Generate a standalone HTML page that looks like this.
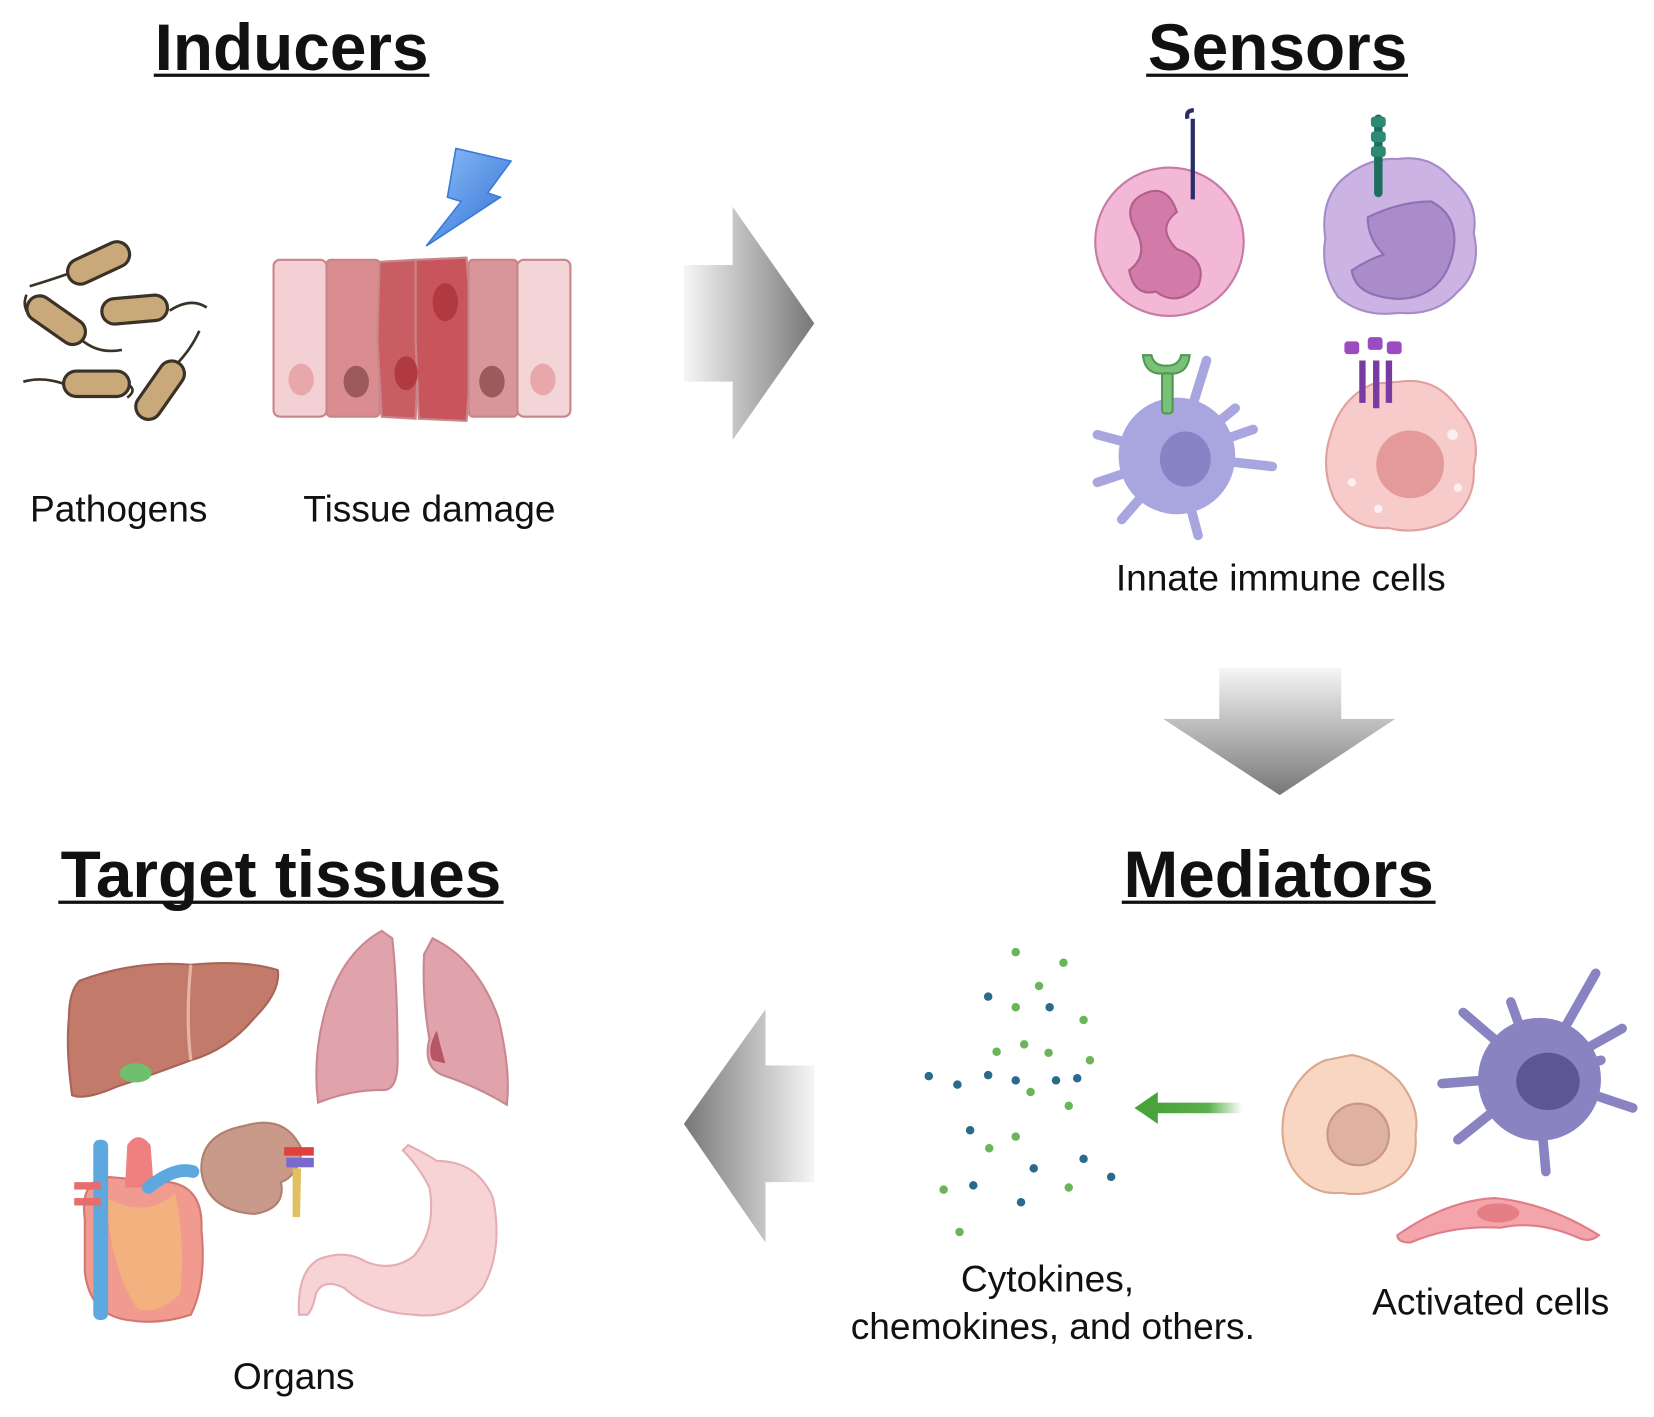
<!DOCTYPE html>
<html><head><meta charset="utf-8"><style>
html,body{margin:0;padding:0;background:#fff;}
svg{display:block;}
text{font-family:"Liberation Sans",Arial,sans-serif;}
</style></head><body>
<svg width="1654" height="1417" viewBox="0 0 1560 1336.5" preserveAspectRatio="none" xmlns="http://www.w3.org/2000/svg">
<defs>
<linearGradient id="gr" gradientUnits="userSpaceOnUse" x1="645" y1="0" x2="768" y2="0"><stop offset="0" stop-color="#f6f6f6"/><stop offset="1" stop-color="#777"/></linearGradient>
<linearGradient id="gl" gradientUnits="userSpaceOnUse" x1="768" y1="0" x2="645" y2="0"><stop offset="0" stop-color="#f6f6f6"/><stop offset="1" stop-color="#777"/></linearGradient>
<linearGradient id="gd" gradientUnits="userSpaceOnUse" x1="0" y1="630" x2="0" y2="750"><stop offset="0" stop-color="#f6f6f6"/><stop offset="1" stop-color="#777"/></linearGradient>
<linearGradient id="gg" x1="0" y1="0" x2="1" y2="0"><stop offset="0" stop-color="#4aa23a"/><stop offset="0.6" stop-color="#5bb04a"/><stop offset="1" stop-color="#5bb04a" stop-opacity="0"/></linearGradient>
<linearGradient id="bolt" x1="0" y1="0" x2="1" y2="1"><stop offset="0" stop-color="#8fc0f5"/><stop offset="1" stop-color="#2f6fd8"/></linearGradient>
</defs>

<!-- Titles -->
<g font-weight="bold" font-size="62" text-anchor="middle" fill="#111">
<text x="275" y="66">Inducers</text>
<text x="1205" y="66">Sensors</text>
<text x="265" y="846">Target tissues</text>
<text x="1206" y="846">Mediators</text>
</g>
<g stroke="#111" stroke-width="3">
<line x1="145" y1="71" x2="405" y2="71"/>
<line x1="1081" y1="71" x2="1328" y2="71"/>
<line x1="55" y1="851" x2="475" y2="851"/>
<line x1="1058" y1="851" x2="1354" y2="851"/>
</g>

<!-- Labels -->
<g font-size="35" text-anchor="middle" fill="#111">
<text x="112" y="492">Pathogens</text>
<text x="405" y="492">Tissue damage</text>
<text x="1208" y="557">Innate immune cells</text>
<text x="988" y="1218">Cytokines,</text>
<text x="993" y="1263">chemokines, and others.</text>
<text x="1406" y="1240">Activated cells</text>
<text x="277" y="1310">Organs</text>
</g>

<!-- Big arrows -->
<path d="M645,250 L691,250 L691,195 L768,305 L691,415 L691,360 L645,360 Z" fill="url(#gr)"/>
<path d="M1150,630 L1265,630 L1265,678 L1316,678 L1207,750 L1097,678 L1150,678 Z" fill="url(#gd)"/>
<path d="M768,1005 L722,1005 L722,952 L645,1060 L722,1172 L722,1115 L768,1115 Z" fill="url(#gl)"/>

<!-- Bacteria -->
<g stroke="#3a3226" stroke-width="2.5" fill="none">
<path d="M65,258 Q45,265 28,270"/><path d="M30,300 Q20,290 25,278"/><path d="M160,293 Q180,280 195,290"/>
<path d="M72,316 Q90,335 115,330"/><path d="M60,362 Q40,355 22,360"/><path d="M120,362 Q130,368 120,375"/>
<path d="M165,345 Q180,330 188,312"/>
</g>
<g fill="#c9a97a" stroke="#3a3226" stroke-width="3">
<rect x="62" y="236" width="62" height="24" rx="12" transform="rotate(-25 93 248)"/>
<rect x="22" y="290" width="62" height="24" rx="12" transform="rotate(35 53 302)"/>
<rect x="96" y="280" width="62" height="24" rx="12" transform="rotate(-5 127 292)"/>
<rect x="60" y="350" width="62" height="24" rx="12"/>
<rect x="120" y="356" width="62" height="24" rx="12" transform="rotate(-55 151 368)"/>
</g>

<!-- Tissue -->
<g stroke="#c9858a" stroke-width="2">
<rect x="258" y="245" width="50" height="148" rx="6" fill="#f2d0d3"/>
<rect x="308" y="245" width="50" height="148" rx="4" fill="#d98d91"/>
<path d="M358,247 L392,245 L395,320 L392,395 L360,393 L356,320 Z" fill="#c85e63"/>
<path d="M392,245 L440,243 L446,320 L440,397 L395,395 L392,320 Z" fill="#c9555c"/>
<rect x="442" y="245" width="46" height="148" rx="4" fill="#d9969a"/>
<rect x="488" y="245" width="50" height="148" rx="6" fill="#f3d5d7"/>
</g>
<ellipse cx="284" cy="358" rx="12" ry="15" fill="#e8a8ab"/>
<ellipse cx="336" cy="360" rx="12" ry="15" fill="#9d5a5c"/>
<ellipse cx="383" cy="352" rx="11" ry="16" fill="#b03a40"/>
<ellipse cx="420" cy="285" rx="12" ry="18" fill="#b03a40"/>
<ellipse cx="464" cy="360" rx="12" ry="15" fill="#9d5a5c"/>
<ellipse cx="512" cy="358" rx="12" ry="15" fill="#e8a8ab"/>
<path d="M430,140 L482,152 L460,182 L472,186 L402,232 L435,190 L422,186 Z" fill="url(#bolt)" stroke="#3a7ad8" stroke-width="1.5"/>

<!-- Sensors -->
<circle cx="1103" cy="228" r="70" fill="#f2b8d6" stroke="#c77aa6" stroke-width="2"/>
<path d="M1075,185 Q1100,170 1110,200 Q1090,215 1110,235 Q1140,245 1130,270 Q1110,290 1090,275 Q1070,280 1065,255 Q1085,240 1070,215 Q1060,195 1075,185 Z" fill="#d27aa8" stroke="#b35f8e" stroke-width="2"/>
<line x1="1125" y1="112" x2="1125" y2="188" stroke="#2a2d6a" stroke-width="4"/>
<path d="M1120,112 Q1118,104 1126,104" stroke="#2a2d6a" stroke-width="4" fill="none"/>
<path d="M1318,150 Q1350,145 1370,170 Q1395,190 1390,220 Q1398,255 1375,275 Q1355,298 1320,295 Q1285,300 1262,280 Q1245,255 1250,225 Q1245,190 1265,170 Q1290,148 1318,150 Z" fill="#cbb3e4" stroke="#a58bc8" stroke-width="2"/>
<path d="M1290,205 Q1320,190 1350,190 Q1378,205 1370,240 Q1360,280 1320,282 Q1278,280 1275,255 Q1290,245 1305,240 Q1290,225 1290,205 Z" fill="#a98cc9" stroke="#8e70b3" stroke-width="2"/>
<g stroke="#1e6e5e" stroke-width="8" stroke-linecap="round"><line x1="1300" y1="112" x2="1300" y2="182"/></g>
<g fill="#2d8a75"><rect x="1293" y="110" width="14" height="10" rx="3"/><rect x="1293" y="124" width="14" height="10" rx="3"/><rect x="1293" y="138" width="14" height="10" rx="3"/></g>

<g stroke="#a9a6df" stroke-width="9" stroke-linecap="round" fill="none">
<path d="M1110,430 L1035,410"/><path d="M1110,430 L1035,455"/><path d="M1110,430 L1058,490"/><path d="M1110,430 L1130,505"/><path d="M1110,430 L1200,440"/><path d="M1110,430 L1165,385"/><path d="M1110,430 L1138,340"/><path d="M1110,430 L1182,405"/>
</g>
<circle cx="1110" cy="430" r="55" fill="#a9a6df"/>
<ellipse cx="1118" cy="433" rx="24" ry="26" fill="#8783c4"/>
<g fill="#7bc079" stroke="#4e9a4f" stroke-width="2">
<rect x="1096" y="345" width="10" height="45" rx="3"/>
<path d="M1078,335 Q1080,355 1100,352 Q1120,355 1122,335 L1114,335 Q1112,345 1100,345 Q1088,345 1086,335 Z"/>
</g>
<path d="M1320,360 Q1355,355 1375,385 Q1398,410 1390,440 Q1392,475 1365,492 Q1335,505 1310,498 Q1275,500 1258,470 Q1245,440 1255,410 Q1265,375 1295,362 Z" fill="#f8cbcb" stroke="#e0a0a0" stroke-width="2"/>
<circle cx="1330" cy="438" r="32" fill="#e49a9a"/>
<g fill="#fff" opacity="0.7"><circle cx="1370" cy="410" r="5"/><circle cx="1275" cy="455" r="4"/><circle cx="1300" cy="480" r="4"/><circle cx="1375" cy="460" r="4"/></g>
<g stroke="#7a3aa0" stroke-width="6"><line x1="1285" y1="340" x2="1285" y2="380"/><line x1="1298" y1="340" x2="1298" y2="385"/><line x1="1310" y1="340" x2="1310" y2="380"/></g>
<g fill="#9a4cc0"><rect x="1268" y="322" width="14" height="12" rx="3"/><rect x="1290" y="318" width="14" height="12" rx="3"/><rect x="1308" y="322" width="14" height="12" rx="3"/></g>

<!-- Mediator dots -->
<g fill="#6ab45a">
<circle cx="958" cy="898" r="4"/><circle cx="1003" cy="908" r="4"/><circle cx="980" cy="930" r="4"/><circle cx="958" cy="950" r="4"/><circle cx="1022" cy="962" r="4"/><circle cx="966" cy="985" r="4"/><circle cx="940" cy="992" r="4"/><circle cx="989" cy="993" r="4"/><circle cx="1028" cy="1000" r="4"/><circle cx="972" cy="1030" r="4"/><circle cx="1008" cy="1043" r="4"/><circle cx="958" cy="1072" r="4"/><circle cx="933" cy="1083" r="4"/><circle cx="890" cy="1122" r="4"/><circle cx="1008" cy="1120" r="4"/><circle cx="905" cy="1162" r="4"/>
</g>
<g fill="#2a6a8c">
<circle cx="932" cy="940" r="4"/><circle cx="990" cy="950" r="4"/><circle cx="876" cy="1015" r="4"/><circle cx="903" cy="1023" r="4"/><circle cx="932" cy="1014" r="4"/><circle cx="958" cy="1019" r="4"/><circle cx="996" cy="1019" r="4"/><circle cx="1016" cy="1017" r="4"/><circle cx="915" cy="1066" r="4"/><circle cx="1022" cy="1093" r="4"/><circle cx="975" cy="1102" r="4"/><circle cx="1048" cy="1110" r="4"/><circle cx="918" cy="1118" r="4"/><circle cx="963" cy="1134" r="4"/>
</g>
<rect x="1090" y="1040" width="82" height="10" fill="url(#gg)"/>
<path d="M1070,1045 L1092,1030 L1092,1060 Z" fill="#4aa23a"/>

<!-- Activated cells -->
<path d="M1275,995 Q1300,1000 1320,1020 Q1340,1045 1335,1070 Q1338,1100 1315,1115 Q1290,1130 1265,1125 Q1235,1128 1218,1100 Q1205,1075 1212,1045 Q1225,1010 1250,1000 Z" fill="#f9d6c1" stroke="#d8a88f" stroke-width="2"/>
<circle cx="1281" cy="1070" r="29" fill="#dfb1a1" stroke="#c89685" stroke-width="2"/>
<g stroke="#8983c2" stroke-width="9" stroke-linecap="round" fill="none">
<path d="M1450,1015 L1505,918"/><path d="M1450,1015 L1380,955"/><path d="M1450,1015 L1425,945"/><path d="M1450,1015 L1360,1022"/><path d="M1450,1015 L1375,1075"/><path d="M1450,1015 L1458,1105"/><path d="M1450,1015 L1540,1045"/><path d="M1450,1015 L1530,970"/><path d="M1450,1015 L1510,1000"/>
</g>
<circle cx="1452" cy="1018" r="58" fill="#8983c2"/>
<ellipse cx="1460" cy="1020" rx="30" ry="27" fill="#5c5793"/>
<path d="M1318,1165 Q1365,1132 1410,1130 Q1460,1135 1508,1165 Q1500,1172 1490,1168 Q1450,1150 1415,1158 Q1370,1155 1330,1172 Q1318,1172 1318,1165 Z" fill="#f4a5ab" stroke="#e07e88" stroke-width="2"/>
<ellipse cx="1413" cy="1144" rx="20" ry="9" fill="#e67e86"/>

<!-- Organs -->
<path d="M75,925 Q130,905 180,910 Q230,905 262,915 Q265,935 240,960 Q215,990 180,1000 Q140,1015 110,1025 Q80,1038 68,1033 Q62,990 65,960 Q65,935 75,925 Z" fill="#c27b6b" stroke="#a86556" stroke-width="2"/>
<path d="M180,910 Q175,960 180,1000" stroke="#e6b5a6" stroke-width="3" fill="none"/>
<ellipse cx="128" cy="1012" rx="15" ry="9" fill="#6fbf6e"/>
<path d="M370,885 Q375,930 375,1000 Q375,1030 360,1028 Q330,1028 300,1040 Q295,1000 305,960 Q320,900 360,878 Z" fill="#e0a3ab" stroke="#c98891" stroke-width="2"/>
<path d="M408,885 Q450,905 470,960 Q482,1010 478,1042 Q450,1025 420,1015 Q398,1008 405,980 Q398,940 400,900 Z" fill="#e0a3ab" stroke="#c98891" stroke-width="2"/>
<path d="M412,972 Q402,990 408,1000 L420,1003 Q415,985 412,972 Z" fill="#b85564"/>
<path d="M230,1062 Q270,1050 285,1085 Q280,1110 265,1115 Q270,1140 240,1145 Q195,1142 190,1105 Q188,1070 230,1062 Z" fill="#c9998a" stroke="#b08070" stroke-width="2"/>
<rect x="268" y="1082" width="28" height="8" fill="#e04040"/>
<rect x="270" y="1092" width="26" height="9" fill="#7a6ad0"/>
<path d="M276,1102 L284,1102 L283,1148 L276,1148 Z" fill="#e0c060"/>
<path d="M385,1080 Q405,1090 412,1095 Q450,1095 465,1130 Q475,1180 455,1215 Q430,1245 390,1240 Q350,1238 325,1215 Q305,1205 298,1220 Q295,1235 290,1240 L282,1240 Q280,1200 300,1188 Q325,1178 345,1190 Q370,1200 390,1185 Q412,1160 405,1120 Q395,1100 380,1085 Z" fill="#f8d3d6" stroke="#e4aeb3" stroke-width="2"/>
<path d="M80,1150 Q75,1115 100,1110 L160,1115 Q192,1120 190,1160 Q195,1210 180,1240 Q150,1250 120,1245 Q85,1240 80,1200 Z" fill="#f19a90" stroke="#d37870" stroke-width="2"/>
<path d="M100,1130 Q140,1150 165,1125 Q175,1170 170,1220 Q150,1240 130,1235 Q105,1200 100,1130 Z" fill="#f4c173" opacity="0.6"/>
<rect x="88" y="1075" width="14" height="170" rx="6" fill="#5da9df"/>
<path d="M120,1080 Q130,1065 142,1080 L145,1120 L118,1120 Z" fill="#f07f80"/>
<path d="M140,1120 Q165,1100 182,1105" stroke="#5da9df" stroke-width="12" fill="none" stroke-linecap="round"/>
<rect x="70" y="1115" width="25" height="7" fill="#e56d6d"/><rect x="70" y="1130" width="25" height="7" fill="#e56d6d"/>
</svg>
</body></html>
